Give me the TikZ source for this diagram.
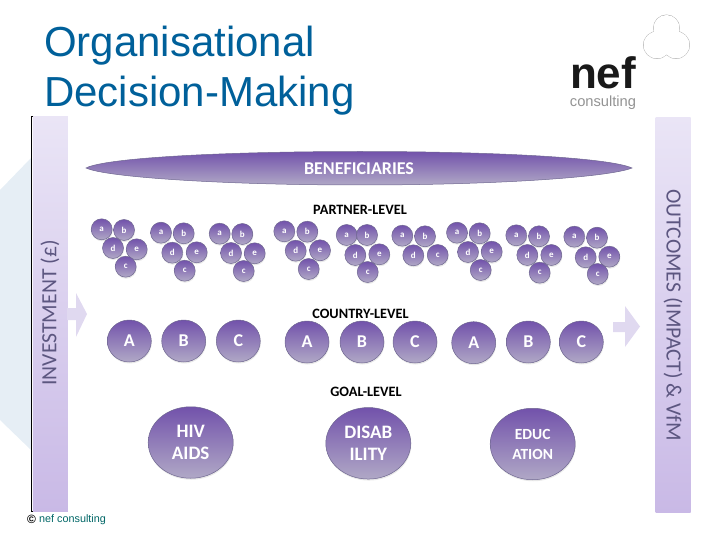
\documentclass[tikz,border=0pt]{standalone}
\usepackage{fontspec}
\usepackage{xcolor}
\usetikzlibrary{shapes.geometric,shadows}
\setmainfont{Carlito}
\newfontfamily\arialfont{Liberation Sans}
\definecolor{nefblue}{HTML}{00609A}
\definecolor{paleblue}{HTML}{E6EEF5}
\definecolor{ballrim}{HTML}{6E6690}
\definecolor{balltop}{HTML}{7252AB}
\definecolor{ballmid}{HTML}{8465B8}
\definecolor{ballend}{HTML}{B0A8C6}
\definecolor{barlight}{HTML}{EAE5F6}
\definecolor{bardark}{HTML}{C9B9E6}
\definecolor{bartext}{HTML}{5C5680}
\definecolor{arrowfill}{HTML}{E0D9F0}
\begin{document}
\begin{tikzpicture}[x=1pt, y=-1pt,
  ball/.style={ellipse, draw=ballrim, line width=0.5pt, inner sep=0pt, text=white, align=center,
    top color=balltop, middle color=ballmid, bottom color=ballend,
    drop shadow={opacity=0.18, shadow xshift=0.5pt, shadow yshift=-1.5pt}},
  tinyball/.style={ball, minimum width=21pt, minimum height=21pt, font=\bfseries\fontsize{9}{9}\selectfont},
  midball/.style={ball, minimum width=44pt, minimum height=42pt, font=\bfseries\fontsize{18}{18}\selectfont},
  bigball/.style={ball, minimum width=85pt, minimum height=71.5pt, font=\bfseries\fontsize{19}{22}\selectfont},
  sidebar/.style={inner sep=0pt, minimum width=35pt, minimum height=395pt, top color=barlight, bottom color=bardark},
  sidetext/.style={text=bartext, font=\fontsize{21.7}{21.7}\selectfont},
  leveltext/.style={font=\bfseries\fontsize{14.3}{14.3}\selectfont}]

\useasboundingbox (0,0) rectangle (720,540);

% Pale shape behind the left bar
\fill[paleblue] (0,190) -- (31,158) -- (31,450) -- (0,420) -- cycle;

% Title
\node[anchor=north west, inner sep=0pt, align=left, text=nefblue, font=\arialfont\fontsize{42}{49.5}\selectfont] (title) at (44,26) {Organisational\\Decision-Making};

% Logo
\draw[gray!70, line width=0.8pt] (666.5,28) circle (13) (657,45) circle (13.5) (676,45) circle (13.5);
\fill[white] (666.5,28) circle (13) (657,45) circle (13.5) (676,45) circle (13.5);
\node[inner sep=0pt, text=black!90, font=\arialfont\bfseries\fontsize{44}{44}\selectfont] (neflogo) at (603,72.5) {nef};
\node[inner sep=0pt, text=gray!85, font=\arialfont\fontsize{14.7}{14.7}\selectfont] (nefname) at (603,102.5) {consulting};

% Side bars
\node[sidebar] (investbar) at (50.3,314) {};
\node[sidebar] (outcomebar) at (673,315) {};
\draw[line width=0.8pt] (33,116.5) -- (31,116.5) -- (31,511) -- (33,511);
\node[sidetext, rotate=90] (investtext) at (50,313) {INVESTMENT (£)};
\node[sidetext, rotate=-90] (outcometext) at (673,315) {OUTCOMES (IMPACT) \& VfM};

% Arrows
\fill[arrowfill] (67,308) -- (76,308) -- (76,293) -- (87,314) -- (76,337) -- (76,320) -- (67,320) -- cycle;
\fill[arrowfill] (613,322) -- (625,322) -- (625,306) -- (640,326.5) -- (625,347) -- (625,332) -- (613,332) -- cycle;

% Beneficiaries
\shade[draw=ballrim, line width=0.5pt, top color=balltop, middle color=ballmid, bottom color=ballend]
  (86,168) .. controls (105,158) and (220,151.5) .. (360,151.5) .. controls (500,151.5) and (610,158) .. (632,168)
  .. controls (610,177) and (500,185) .. (360,185) .. controls (220,185) and (105,177) .. (86,168) -- cycle;
\node[text=white, font=\bfseries\fontsize{18}{18}\selectfont] (benefit) at (359,168.5) {BENEFICIARIES};

% Level labels
\node[leveltext] (partner) at (360,210) {PARTNER-LEVEL};
\node[leveltext] (country) at (360.5,314) {COUNTRY-LEVEL};
\node[leveltext] (goal) at (366,392) {GOAL-LEVEL};

% Partner group 1
\node[tinyball] (a1) at (101.7,229.3) {a};
\node[tinyball] (b1) at (124,230) {b};
\node[tinyball] (d1) at (113,248) {d};
\node[tinyball] (e1) at (136.7,249.3) {e};
\node[tinyball] (c1) at (125.7,266.7) {c};

% Partner group 2
\node[tinyball] (a2) at (161,232.7) {a};
\node[tinyball] (b2) at (183.7,233.3) {b};
\node[tinyball] (d2) at (172.3,252.7) {d};
\node[tinyball] (e2) at (196.7,252.3) {e};
\node[tinyball] (c2) at (184.7,270.7) {c};

% Partner group 3
\node[tinyball] (a3) at (219.7,233.7) {a};
\node[tinyball] (b3) at (242.3,234) {b};
\node[tinyball] (d3) at (231,253) {d};
\node[tinyball] (e3) at (254.7,253.3) {e};
\node[tinyball] (c3) at (243.7,271) {c};

% Partner group 4
\node[tinyball] (a4) at (284.3,231.3) {a};
\node[tinyball] (b4) at (307.3,231.7) {b};
\node[tinyball] (d4) at (295.7,250.7) {d};
\node[tinyball] (e4) at (320,250.3) {e};
\node[tinyball] (c4) at (308.7,269) {c};

% Partner group 5
\node[tinyball] (a5) at (346.7,235) {a};
\node[tinyball] (b5) at (367,235) {b};
\node[tinyball] (d5) at (355.3,255) {d};
\node[tinyball] (e5) at (379.3,254.3) {e};
\node[tinyball] (c5) at (367.7,272) {c};

% Partner group 6
\node[tinyball] (a6) at (402.3,235.7) {a};
\node[tinyball] (b6) at (425,236.3) {b};
\node[tinyball] (d6) at (413.3,255.3) {d};
\node[tinyball] (e6) at (437.7,255) {c};

% Partner group 7
\node[tinyball] (a7) at (457,232.7) {a};
\node[tinyball] (b7) at (479.7,233.3) {b};
\node[tinyball] (d7) at (468,252) {d};
\node[tinyball] (e7) at (491.7,251.7) {e};
\node[tinyball] (c7) at (480.7,270) {c};

% Partner group 8
\node[tinyball] (a8) at (516.3,235.3) {a};
\node[tinyball] (b8) at (539,236.3) {b};
\node[tinyball] (d8) at (527.3,255) {d};
\node[tinyball] (e8) at (551.3,255) {e};
\node[tinyball] (c8) at (539.7,272.7) {c};

% Partner group 9
\node[tinyball] (a9) at (574.3,236.7) {a};
\node[tinyball] (b9) at (597,237.7) {b};
\node[tinyball] (d9) at (585.7,257.3) {d};
\node[tinyball] (e9) at (609.3,256.7) {e};
\node[tinyball] (c9) at (597.7,274) {c};

% Country row
\node[midball] (countryA1) at (129.3,341) {A};
\node[midball] (countryB1) at (183.7,341) {B};
\node[midball] (countryC1) at (238.3,341) {C};
\node[midball] (countryA2) at (307,342) {A};
\node[midball] (countryB2) at (362,342) {B};
\node[midball] (countryC2) at (415,342) {C};
\node[midball] (countryA3) at (473.7,342.7) {A};
\node[midball] (countryB3) at (528.3,342) {B};
\node[midball] (countryC3) at (581.3,342) {C};

% Goals
\node[bigball] (hiv) at (190.7,442.5) {HIV\\AIDS};
\node[bigball] (disab) at (368.3,443.3) {DISAB\\ILITY};
\node[bigball, font=\bfseries\fontsize{15.5}{20}\selectfont] (educ) at (532.7,444) {EDUC\\ATION};

% Footer
\node[anchor=west, inner sep=0pt, text=black, font=\arialfont\bfseries\fontsize{12}{12}\selectfont] (copymark) at (27,519) {©};
\node[anchor=west, inner sep=0pt, text=teal!80!black, font=\arialfont\fontsize{10.8}{10.8}\selectfont] (footer) at (39,519.5) {nef consulting};

\end{tikzpicture}
\end{document}
